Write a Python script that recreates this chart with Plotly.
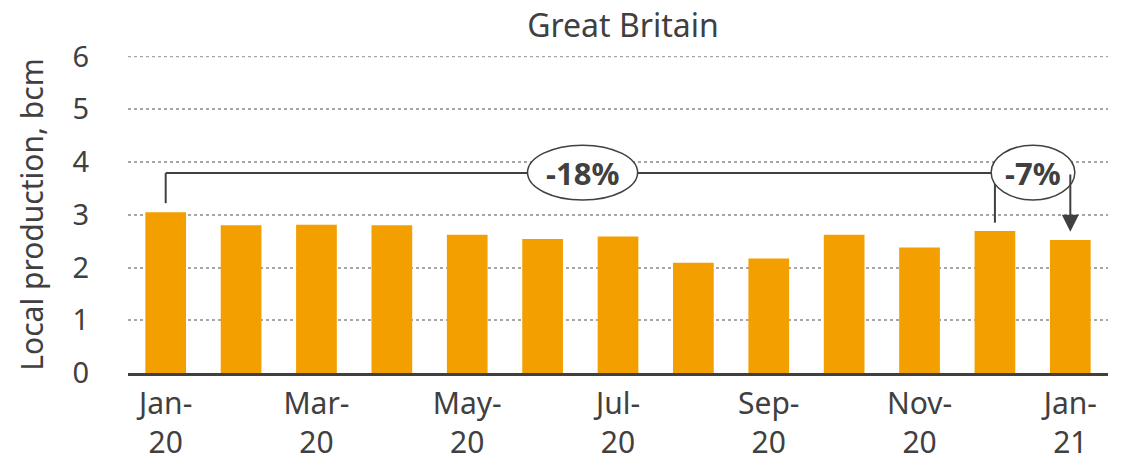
import plotly.graph_objects as go

months = ["Jan-20", "Feb-20", "Mar-20", "Apr-20", "May-20", "Jun-20", "Jul-20",
          "Aug-20", "Sep-20", "Oct-20", "Nov-20", "Dec-20", "Jan-21"]
production = [3.05, 2.80, 2.81, 2.80, 2.62, 2.54, 2.59, 2.09, 2.17, 2.62, 2.38, 2.69, 2.52]
tick_months = ["Jan-20", "Mar-20", "May-20", "Jul-20", "Sep-20", "Nov-20", "Jan-21"]
tick_labels = ["Jan-<br>20", "Mar-<br>20", "May-<br>20", "Jul-<br>20", "Sep-<br>20", "Nov-<br>20", "Jan-<br>21"]
y_ticks = [0, 1, 2, 3, 4, 5, 6]
change_labels = ["-18%", "-7%"]

TXT = "#404040"
FONT = "Noto Sans"
BAR = "#F39F00"
GRID = "#A6A6A6"

fig = go.Figure()
fig.add_trace(go.Bar(x=months, y=production, marker=dict(color=BAR, line=dict(width=0)),
                     hoverinfo="skip"))

first, dec_i, last = 0, 11, 12
yb = 3.79  # bracket height
lc = dict(color=TXT, width=2)
shapes = [
    # top gridline (at the range edge)
    dict(type="line", xref="paper", x0=0, x1=1, yref="y", y0=y_ticks[-1], y1=y_ticks[-1],
         line=dict(color=GRID, width=1.5, dash="dot"), layer="below"),
    dict(type="line", x0=first, x1=first, y0=production[first] + 0.17, y1=yb, line=lc),
    dict(type="line", x0=first, x1=last, y0=yb, y1=yb, line=lc),
    dict(type="line", x0=dec_i, x1=dec_i, y0=production[dec_i] + 0.16, y1=yb, line=lc),
    dict(type="circle", x0=4.80, x1=6.26, y0=3.28, y1=4.32, fillcolor="white",
         line=dict(color=TXT, width=1.5)),
    dict(type="circle", x0=10.95, x1=12.06, y0=3.28, y1=4.32, fillcolor="white",
         line=dict(color=TXT, width=1.5)),
]
for s in shapes[1:]:
    s["layer"] = "above"
    s["xref"] = "x"
    s["yref"] = "y"

annotations = [
    dict(x=5.53, y=3.80, text="<b>" + change_labels[0] + "</b>", showarrow=False,
         font=dict(size=31, color=TXT, family=FONT)),
    dict(x=11.5, y=3.80, text="<b>" + change_labels[1] + "</b>", showarrow=False,
         font=dict(size=31, color=TXT, family=FONT)),
    dict(x=last, y=production[last] + 0.16, ax=last, ay=yb, axref="x", ayref="y",
         xref="x", yref="y", text="", showarrow=True, arrowhead=2, arrowsize=1.7,
         arrowwidth=2, arrowcolor=TXT),
]

fig.update_layout(
    width=1114, height=453,
    margin=dict(l=120, r=14, t=48, b=88),
    paper_bgcolor="white", plot_bgcolor="white",
    showlegend=False,
    bargap=0.46,
    font=dict(family=FONT, color=TXT, size=29),
    title=dict(text="Great Britain", x=0.552, xanchor="center", y=0.985, yanchor="top",
               font=dict(size=32, color=TXT, family=FONT)),
    shapes=shapes,
    annotations=annotations,
    xaxis=dict(type="category", categoryorder="array", categoryarray=months,
               tickmode="array", tickvals=tick_months, ticktext=tick_labels,
               ticks="outside", ticklen=2, tickcolor="rgba(0,0,0,0)",
               showgrid=False, showline=True, linecolor=TXT, linewidth=2.5,
               tickfont=dict(size=30, color=TXT), range=[-0.5, 12.5],
               automargin=False),
    yaxis=dict(range=[0, 6.01], tickvals=y_ticks, showgrid=True,
               gridcolor=GRID, griddash="dot", gridwidth=1.5,
               zeroline=False, showline=False,
               ticks="outside", ticklen=32, tickcolor="rgba(0,0,0,0)",
               tickfont=dict(size=29, color=TXT), automargin=False,
               title=dict(text="Local production, bcm", font=dict(size=30, color=TXT),
                          standoff=20)),
)

fig.write_html("out.html")
